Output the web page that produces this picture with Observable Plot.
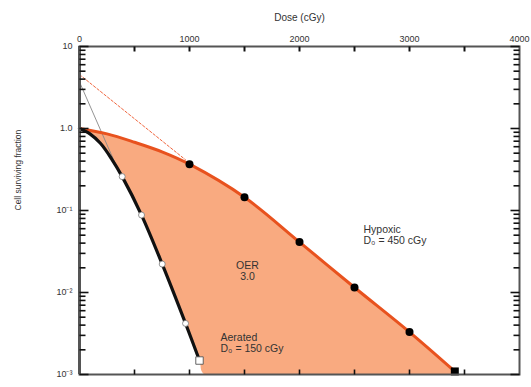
<!DOCTYPE html>
<html>
<head>
<meta charset="utf-8">
<script src="https://cdn.jsdelivr.net/npm/d3@7"></script>
<script src="https://cdn.jsdelivr.net/npm/@observablehq/plot@0.6"></script>
<style>
  html, body { margin: 0; padding: 0; background: #fff; }
  #chart svg { display: block; }
</style>
</head>
<body>
<div id="chart"></div>
<script>
// ---- data ----
const hypoxicDose = [0, 250, 500, 750, 1000, 1500, 2000, 2500, 3000, 3412];
const hypoxicSF   = [1, 0.86, 0.68, 0.52, 0.367, 0.145, 0.0412, 0.0115, 0.00329, 0.00109];
const hypoxicMarkDose = [1000, 1500, 2000, 2500, 3000];
const hypoxicMarkSF   = [0.367, 0.145, 0.0412, 0.0115, 0.00329];
const hypoxicLastDose = [3412];
const hypoxicLastSF   = [0.00109];

const aeratedDose = [0, 95, 190, 290, 388, 564, 752, 964, 1091];
const aeratedSF   = [1, 0.86, 0.66, 0.43, 0.259, 0.088, 0.0222, 0.0042, 0.00148];
const aeratedMarkDose = [388, 564, 752, 964];
const aeratedMarkSF   = [0.259, 0.088, 0.0222, 0.0042];
const aeratedLastDose = [1091];
const aeratedLastSF   = [0.00148];

// fill bottom corners (where the shaded region meets the 10^-3 floor)
const fillFloorDose = [1136, 3440];
const fillFloorSF   = [0.001, 0.001];

// extrapolation lines
const hypoxicExtrapDose = [0, 964];
const hypoxicExtrapSF   = [4.55, 0.415];
const aeratedExtrapDose = [0, 375];
const aeratedExtrapSF   = [3.7, 0.262];

// axes
const xMajor = [0, 1000, 2000, 3000, 4000];
const xMinor = [500, 1000, 1500, 2000, 2500, 3000, 3500];
const yMajor = [10, 1, 0.1, 0.01, 0.001];
const yLabels = ["10", "1.0", "10\u207B\u00B9", "10\u207B\u00B2", "10\u207B\u00B3"];

const xTitle = "Dose (cGy)";
const yTitle = "Cell surviving fraction";

const notesMiddle = [
  {dose: 1527, sf: 0.0182, text: "OER\n3.0"}
];
const notesStart = [
  {dose: 1282, sf: 0.00244, text: "Aerated\nD\u2080 = 150 cGy"},
  {dose: 2582, sf: 0.0501, text: "Hypoxic\nD\u2080 = 450 cGy"}
];

// ---- build tables ----
const zip = (xs, ys) => xs.map((x, i) => ({dose: x, sf: ys[i]}));
const hypoxic = zip(hypoxicDose, hypoxicSF);
const aerated = zip(aeratedDose, aeratedSF);
const fillPoly = [
  ...aerated,
  ...zip(fillFloorDose, fillFloorSF),
  ...hypoxic.slice().reverse()
];
const yMinor = [];
for (const m of yMajor.slice(1)) for (let k = 2; k <= 9; k++) yMinor.push(+(m * k).toPrecision(3));
const yLabelMap = new Map(yMajor.map((v, i) => [v, yLabels[i]]));

const W = 531, H = 387, ML = 79, MR = 12, MT = 46, MB = 13;
const FW = W - ML - MR, FH = H - MT - MB;
const X0 = 0, X1 = 4000, Y0 = 0.001, Y1 = 10;
// tick lengths (pixels) expressed in data units
const dxPerPx = (X1 - X0) / FW;
const decPerPx = Math.log10(Y1 / Y0) / FH;
const yTickRows = [
  ...yMajor.map(v => ({v, len: 9})),
  ...yMinor.map(v => ({v, len: 6}))
];
const xTickRows = xMinor.map(v => ({v, len: 5}));

const font = "Liberation Sans, Arial, sans-serif";
const axisColor = "#555";
const tickColor = "#111";

const chart = Plot.plot({
  width: W,
  height: H,
  marginLeft: ML,
  marginRight: MR,
  marginTop: MT,
  marginBottom: MB,
  style: {fontFamily: font, fontSize: "9px", color: "#333", background: "#fff"},
  x: {domain: [X0, X1]},
  y: {type: "log", domain: [Y0, Y1]},
  marks: [
    // shaded OER region
    Plot.line(fillPoly, {x: "dose", y: "sf", fill: "#f9aa80", stroke: "none", curve: "catmull-rom", clip: true}),
    // extrapolation lines
    Plot.line(zip(hypoxicExtrapDose, hypoxicExtrapSF), {x: "dose", y: "sf", stroke: "#f0643c", strokeWidth: 1, strokeDasharray: "2.5,2"}),
    Plot.line(zip(aeratedExtrapDose, aeratedExtrapSF), {x: "dose", y: "sf", stroke: "#888", strokeWidth: 0.9}),
    // survival curves
    Plot.line(hypoxic, {x: "dose", y: "sf", stroke: "#e8521e", strokeWidth: 3, curve: "catmull-rom"}),
    Plot.line(aerated, {x: "dose", y: "sf", stroke: "#111", strokeWidth: 3.2, curve: "catmull-rom"}),
    // data markers
    Plot.dot(zip(hypoxicMarkDose, hypoxicMarkSF), {x: "dose", y: "sf", r: 4, fill: "#000", stroke: "none"}),
    Plot.dot(zip(hypoxicLastDose, hypoxicLastSF), {x: "dose", y: "sf", symbol: "square", r: 4.5, fill: "#000", stroke: "none"}),
    Plot.dot(zip(aeratedMarkDose, aeratedMarkSF), {x: "dose", y: "sf", r: 3, fill: "#fff", stroke: "#777", strokeWidth: 0.8}),
    Plot.dot(zip(aeratedLastDose, aeratedLastSF), {x: "dose", y: "sf", symbol: "square", r: 4.2, fill: "#fff", stroke: "#555", strokeWidth: 0.9}),
    // annotations
    Plot.text(notesMiddle, {x: "dose", y: "sf", text: "text", textAnchor: "middle", lineHeight: 1.05, fontSize: 10.5, fill: "#333"}),
    Plot.text(notesStart, {x: "dose", y: "sf", text: "text", textAnchor: "start", lineHeight: 1.05, fontSize: 10.5, fill: "#333"}),
    // frame
    Plot.frame({stroke: axisColor, strokeWidth: 2}),
    Plot.ruleX([X0], {stroke: axisColor, strokeWidth: 3}),
    // inward tick marks
    Plot.link(yTickRows, {x1: X0, x2: d => X0 + d.len * dxPerPx, y1: "v", y2: "v", stroke: tickColor, strokeWidth: 1.6}),
    Plot.link(yTickRows, {x1: X1, x2: d => X1 - d.len * dxPerPx, y1: "v", y2: "v", stroke: tickColor, strokeWidth: 1.6}),
    Plot.link(xTickRows, {x1: "v", x2: "v", y1: Y1, y2: d => Y1 / Math.pow(10, d.len * decPerPx), stroke: tickColor, strokeWidth: 2}),
    Plot.link(xTickRows, {x1: "v", x2: "v", y1: Y0, y2: d => Y0 * Math.pow(10, d.len * decPerPx), stroke: tickColor, strokeWidth: 1.6}),
    // tick labels
    Plot.axisY({anchor: "left", ticks: yMajor, tickFormat: d => yLabelMap.get(d), tickSize: 0, tickPadding: 7, label: null, fontSize: 9}),
    Plot.axisX({anchor: "top", ticks: xMajor, tickFormat: d => String(d), tickSize: 0, tickPadding: 5, label: null, fontSize: 9}),
    // titles
    Plot.text([xTitle], {frameAnchor: "top", dy: -33, text: d => d, fontSize: 10, fill: "#333"}),
    Plot.text([yTitle], {frameAnchor: "left", dx: -61, rotate: -90, text: d => d, fontSize: 8.5, fill: "#333"})
  ]
});
document.getElementById("chart").appendChild(chart);
</script>
</body>
</html>
